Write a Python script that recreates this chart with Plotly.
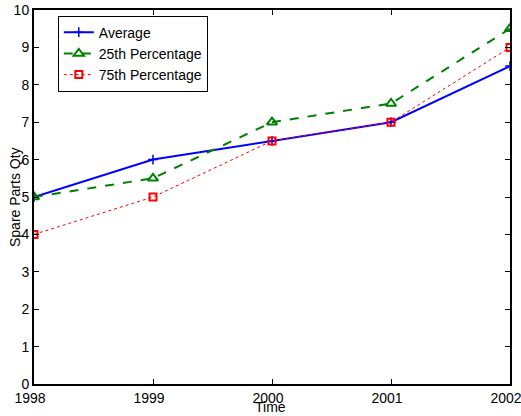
import plotly.graph_objects as go

years = [1998, 1999, 2000, 2001, 2002]
average = [5, 6, 6.5, 7, 8.5]
p25 = [5, 5.5, 7, 7.5, 9.5]
p75 = [4, 5, 6.5, 7, 9]
yticks = list(range(0, 11))

fig = go.Figure()
fig.add_trace(go.Scatter(x=years, y=average, name="Average", mode="lines+markers",
                         line=dict(color="#0000ff", width=2),
                         marker=dict(symbol="cross-thin", size=7, line=dict(color="#0000ff", width=1.5))))
fig.add_trace(go.Scatter(x=years, y=p25, name="25th Percentage", mode="lines+markers",
                         line=dict(color="#008000", width=2, dash="dash"),
                         marker=dict(symbol="triangle-up-open", size=9, color="#008000", line=dict(color="#008000", width=2))))
fig.add_trace(go.Scatter(x=years, y=p75, name="75th Percentage", mode="lines+markers",
                         line=dict(color="#ff0000", width=1, dash="dot"),
                         marker=dict(symbol="square-open", size=7, color="#ff0000", line=dict(color="#ff0000", width=2))))

font = dict(family="Liberation Sans, Arial, sans-serif", size=14, color="black")
fig.update_layout(
    width=521, height=416,
    margin=dict(l=34, r=11, t=10, b=32, autoexpand=False),
    paper_bgcolor="white", plot_bgcolor="white",
    font=font,
    showlegend=True,
    legend=dict(x=0.05, y=0.985, xanchor="left", yanchor="top",
                bordercolor="black", borderwidth=1, bgcolor="white",
                font=dict(family="Liberation Sans, Arial, sans-serif", size=14),
                tracegroupgap=0, itemwidth=30),
    xaxis=dict(range=[1998, 2002], tickvals=years, ticktext=[str(y) for y in years],
               showline=True, linecolor="black", linewidth=2, mirror="ticks",
               ticks="inside", ticklen=5, tickcolor="black", tickwidth=1,
               showgrid=False, zeroline=False, automargin=False,
               ticklabeloverflow="allow", ticklabelshift=-4),
    yaxis=dict(range=[0, 10], tickvals=yticks,
               showline=True, linecolor="black", linewidth=2, mirror="ticks",
               ticks="inside", ticklen=5, tickcolor="black", tickwidth=1,
               showgrid=False, zeroline=False, automargin=False,
               ticklabeloverflow="allow"),
    annotations=[
        dict(text="Time", xref="paper", yref="paper", x=0.5, y=0,
             xanchor="center", yanchor="middle", yshift=-23, xshift=-2,
             showarrow=False, font=font),
        dict(text="Spare Parts Qty", xref="paper", yref="paper", x=0, y=0.5,
             xanchor="center", yanchor="middle", xshift=-19, textangle=-90,
             showarrow=False, font=font),
    ],
)
fig.write_html("out.html", config={"displayModeBar": False},
               post_script="document.body.style.margin='0';document.body.style.overflow='hidden';")
